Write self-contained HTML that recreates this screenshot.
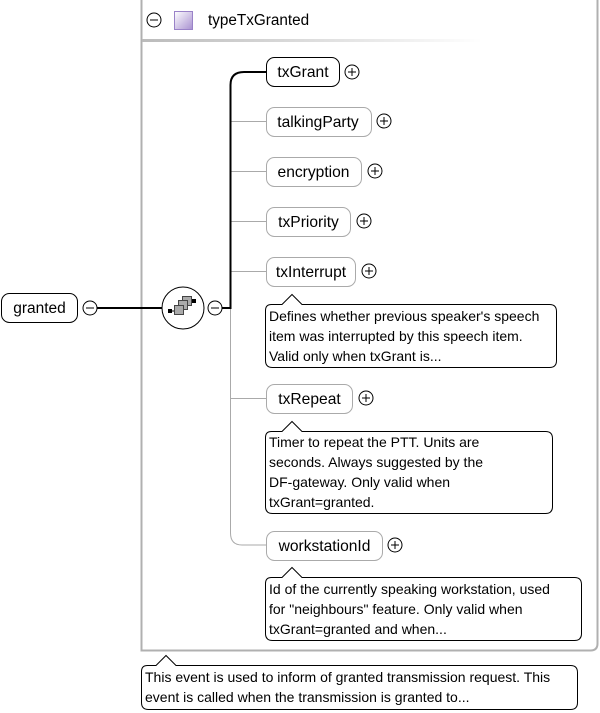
<!DOCTYPE html>
<html><head><meta charset="utf-8"><style>
html,body{margin:0;padding:0;background:#fff;width:600px;height:713px;overflow:hidden}
svg{display:block}
text{font-family:"Liberation Sans",Arial,sans-serif;fill:#000}
</style></head><body>
<svg width="600" height="713" viewBox="0 0 600 713" xmlns="http://www.w3.org/2000/svg">
<defs>
<linearGradient id="hd" x1="0" x2="1" y1="0" y2="0">
<stop offset="0" stop-color="#bbb"/><stop offset="1" stop-color="#fff"/>
</linearGradient>
<linearGradient id="sq" x1="0" y1="0" x2="1" y2="1">
<stop offset="0" stop-color="#fff"/><stop offset="1" stop-color="#a890d0"/>
</linearGradient>
</defs>
<path d="M141.5,0 V650.5 H590.5 Q597.5,650.5 597.5,643.5 V0" fill="none" stroke="#b0b0b0" stroke-width="2"/>
<rect x="142" y="39" width="340" height="3" fill="url(#hd)"/>
<circle cx="154" cy="20" r="7" fill="#fff" stroke="#000"/>
<line x1="150" y1="20" x2="158" y2="20" stroke="#000"/>
<rect x="174.5" y="11.5" width="18" height="18" fill="url(#sq)" stroke="#9a82c8"/>
<text x="208" y="25" font-size="15.3">typeTxGranted</text>

<rect x="1.5" y="293.5" width="76" height="29" rx="8" fill="#fff" stroke="#000"/>
<text x="39.5" y="313" font-size="15.5" text-anchor="middle">granted</text>
<circle cx="90" cy="308" r="7" fill="#fff" stroke="#000"/>
<line x1="86" y1="308" x2="94" y2="308" stroke="#000"/>
<line x1="97" y1="308" x2="162" y2="308" stroke="#000" stroke-width="2"/>
<circle cx="183" cy="308" r="21" fill="#fff" stroke="#000"/>
<rect x="168" y="309" width="4" height="4" fill="#000"/>
<line x1="172" y1="311" x2="176" y2="311" stroke="#000"/>
<rect x="182.5" y="296.5" width="9" height="9" fill="#aaa" stroke="#444"/>
<rect x="178.5" y="300.5" width="9" height="9" fill="#aaa" stroke="#444"/>
<rect x="174.5" y="305.5" width="9" height="9" fill="#aaa" stroke="#444"/>
<rect x="192" y="299" width="4" height="4" fill="#000"/>
<circle cx="215" cy="308" r="7" fill="#fff" stroke="#000"/>
<line x1="211" y1="308" x2="219" y2="308" stroke="#000"/>

<path d="M230.5,300 V533 Q230.5,545 242,545 H266" fill="none" stroke="#aaa"/>
<g stroke="#aaa">
<line x1="230" y1="121.5" x2="266" y2="121.5"/>
<line x1="230" y1="171.5" x2="266" y2="171.5"/>
<line x1="230" y1="221.5" x2="266" y2="221.5"/>
<line x1="230" y1="271.5" x2="266" y2="271.5"/>
<line x1="230" y1="398.5" x2="266" y2="398.5"/>
</g>
<path d="M222,308 H230.5 V85 Q230.5,72 244,72 H266" fill="none" stroke="#000" stroke-width="2"/>

<g font-size="15.6">
<rect x="266.5" y="57.5" width="73" height="29" rx="8" fill="#fff" stroke="#000"/>
<text x="303" y="77" text-anchor="middle">txGrant</text>
<rect x="266.5" y="107.5" width="105" height="29" rx="8" fill="#fff" stroke="#aaa"/>
<text x="318" y="127" text-anchor="middle">talkingParty</text>
<rect x="266.5" y="157.5" width="95" height="29" rx="8" fill="#fff" stroke="#aaa"/>
<text x="313.5" y="177" text-anchor="middle">encryption</text>
<rect x="266.5" y="207.5" width="84" height="29" rx="8" fill="#fff" stroke="#aaa"/>
<text x="308.5" y="227" text-anchor="middle">txPriority</text>
<rect x="266.5" y="257.5" width="89" height="29" rx="8" fill="#fff" stroke="#aaa"/>
<text x="311" y="277" text-anchor="middle">txInterrupt</text>
<rect x="266.5" y="384.5" width="86" height="29" rx="8" fill="#fff" stroke="#aaa"/>
<text x="309.5" y="404" text-anchor="middle">txRepeat</text>
<rect x="266.5" y="531.5" width="116" height="29" rx="8" fill="#fff" stroke="#aaa"/>
<text x="324.5" y="551" text-anchor="middle">workstationId</text>
</g>
<g fill="#fff" stroke="#000">
<circle cx="352" cy="72" r="7"/><path d="M348,72H356M352,68V76"/>
<circle cx="384" cy="121" r="7"/><path d="M380,121H388M384,117V125"/>
<circle cx="375" cy="171" r="7"/><path d="M371,171H379M375,167V175"/>
<circle cx="364" cy="221" r="7"/><path d="M360,221H368M364,217V225"/>
<circle cx="369" cy="271" r="7"/><path d="M365,271H373M369,267V275"/>
<circle cx="366" cy="398" r="7"/><path d="M362,398H370M366,394V402"/>
<circle cx="395" cy="545" r="7"/><path d="M391,545H399M395,541V549"/>
</g>

<g fill="#fff" stroke="#000">
<path d="M271.5,304.5 H282 L292,294.5 L302,304.5 H549.5 Q556.5,304.5 556.5,311.5 V360.5 Q556.5,367.5 549.5,367.5 H272.5 Q265.5,367.5 265.5,360.5 V310.5 Q265.5,304.5 271.5,304.5 Z"/>
<path d="M271.5,431.5 H282 L292,421.5 L302,431.5 H545.5 Q552.5,431.5 552.5,438.5 V506.5 Q552.5,513.5 545.5,513.5 H272.5 Q265.5,513.5 265.5,506.5 V437.5 Q265.5,431.5 271.5,431.5 Z"/>
<path d="M271.5,577.5 H282 L292,567.5 L302,577.5 H574.5 Q581.5,577.5 581.5,584.5 V633.5 Q581.5,640.5 574.5,640.5 H272.5 Q265.5,640.5 265.5,633.5 V583.5 Q265.5,577.5 271.5,577.5 Z"/>
<path d="M147.5,665.5 H156 L166,655.5 L176,665.5 H570.5 Q577.5,665.5 577.5,672.5 V702.5 Q577.5,709.5 570.5,709.5 H148.5 Q141.5,709.5 141.5,702.5 V671.5 Q141.5,665.5 147.5,665.5 Z"/>
</g>
<g font-size="14">
<text x="269" y="321">Defines whether previous speaker's speech</text>
<text x="269" y="341">item was interrupted by this speech item.</text>
<text x="269" y="361">Valid only when txGrant is...</text>
<text x="269" y="447">Timer to repeat the PTT. Units are</text>
<text x="269" y="467">seconds. Always suggested by the</text>
<text x="269" y="487">DF-gateway. Only valid when</text>
<text x="269" y="507">txGrant=granted.</text>
<text x="269" y="594">Id of the currently speaking workstation, used</text>
<text x="269" y="614">for "neighbours" feature. Only valid when</text>
<text x="269" y="634">txGrant=granted and when...</text>
<text x="145" y="682">This event is used to inform of granted transmission request. This</text>
<text x="145" y="702">event is called when the transmission is granted to...</text>
</g>
</svg>
</body></html>
